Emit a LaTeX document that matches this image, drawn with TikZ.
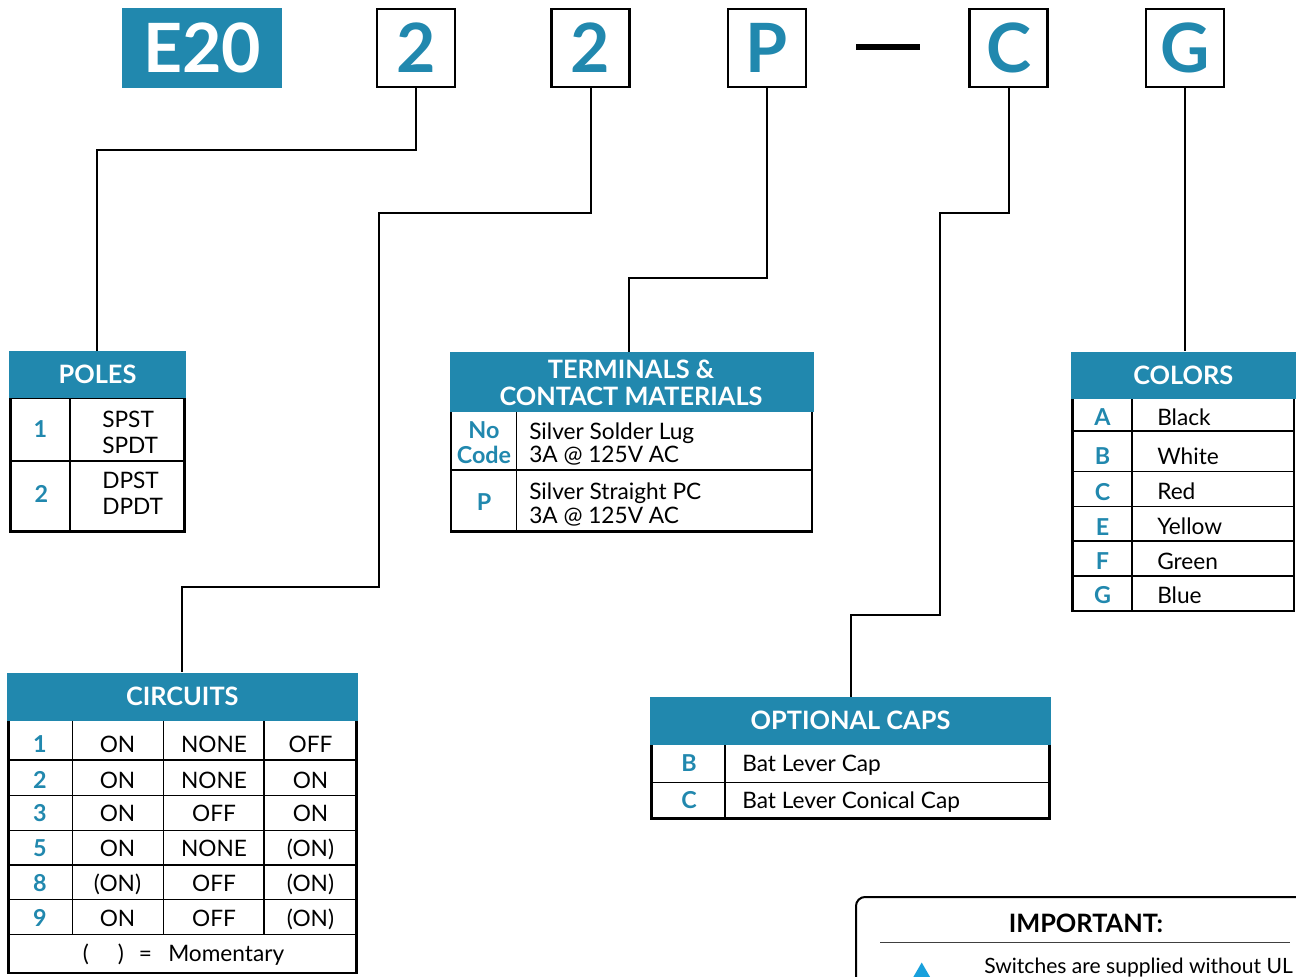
\documentclass[tikz,border=0pt]{standalone}
\usepackage{fontspec}
\setmainfont{Lato}
\newdimen\px \px=0.75pt
\definecolor{brand}{RGB}{33,136,174}
\definecolor{warn}{RGB}{24,160,220}
\newcommand\bodyf{\fontsize{17}{20}\selectfont}
\newcommand\keyf{\fontsize{17.5}{20}\selectfont\bfseries}
\newcommand\hdrf{\fontsize{19}{20.25}\selectfont\bfseries}
\newcommand\bigf{\fontsize{51}{51}\selectfont\bfseries}
\tikzset{
  hdr/.style={fill=brand, text=white, font=\hdrf, inner sep=0pt, align=center},
  bigbox/.style={draw=black, line width=2.5\px, minimum width=78\px, minimum height=78\px, inner sep=0pt, text=brand, font=\bigf},
  key/.style={text=brand, font=\keyf, inner sep=0pt, anchor=base},
  val/.style={font=\bodyf, inner sep=0pt, anchor=base west},
  valc/.style={font=\bodyf, inner sep=0pt, anchor=base},
  conn/.style={line width=2\px},
  outer/.style={line width=2.8\px},
  inner/.style={line width=1.4\px},
}
\begin{document}
\begin{tikzpicture}[x=0.75pt,y=-0.75pt]
\useasboundingbox (0,0) rectangle (1296,977);
\begin{scope}
\clip (0,0) rectangle (1296,977);

% ---------- top code boxes ----------
\node[fill=brand, minimum width=160\px, minimum height=80\px, inner sep=0pt, text=white, font=\bigf] (e20) at (202,48) {E20};
\node[bigbox] (b1) at (416,48) {2};
\node[bigbox] (b2) at (590.5,48) {2};
\node[bigbox] (b3) at (767,48) {P};
\coordinate (dA) at (856,47.5);
\coordinate (dB) at (920,47.5);
\draw[line width=6\px] (dA) -- (dB);
\node[bigbox] (b4) at (1008.5,48) {C};
\node[bigbox] (b5) at (1185,48) {G};

% ---------- POLES ----------
\draw[outer] (10.5,398) rectangle (184.5,531.5);
\draw[inner] (70,398) -- (70,531.5);
\draw[inner] (10.5,461) -- (184.5,461);
\node[hdr, minimum width=177\px, minimum height=47\px] (poles) at (97.5,374.5) {POLES};
\node[key] (p1k) at (40.5,437) {1};
\node[key] (p2k) at (41.5,502) {2};
\node[val] (p1a) at (102,427) {SPST};
\node[val] (p1b) at (102,453) {SPDT};
\node[val] (p2a) at (102,488) {DPST};
\node[val] (p2b) at (102,514) {DPDT};

% ---------- TERMINALS ----------
\draw[outer] (451,411) rectangle (812,531.5);
\draw[inner] (516.5,411) -- (516.5,531.5);
\draw[inner] (451,470) -- (812,470);
\node[hdr, minimum width=364\px, minimum height=60\px] (term) at (631.5,381.5) {};
\node[font=\hdrf, text=white, inner sep=0pt, anchor=base] (term1) at (631,378) {TERMINALS \&};
\node[font=\hdrf, text=white, inner sep=0pt, anchor=base] (term2) at (631,405) {CONTACT MATERIALS};
\node[key] (t1a) at (484,438) {No};
\node[key] (t1b) at (484,463) {Code};
\node[key] (t2k) at (484,510) {P};
\node[val] (t1v1) at (529,439) {Silver Solder Lug};
\node[val] (t1v2) at (529,462) {3A @ 125V AC};
\node[val] (t2v1) at (529,499) {Silver Straight PC};
\node[val] (t2v2) at (529,523) {3A @ 125V AC};

% ---------- COLORS ----------
\draw[outer] (1072.5,398) rectangle (1294,611);
\draw[inner] (1132,398) -- (1132,611);
\foreach \yy in {431,471.5,506.5,541,576} \draw[inner] (1072.5,\yy) -- (1294,\yy);
\node[hdr, minimum width=224.5\px, minimum height=47\px] (colors) at (1183.25,375) {COLORS};
\node[key] (cA) at (1102.5,425) {A};
\node[key] (cB) at (1102.5,464) {B};
\node[key] (cC) at (1102.5,500) {C};
\node[key] (cE) at (1102.5,535) {E};
\node[key] (cF) at (1102.5,569) {F};
\node[key] (cG) at (1102.5,603) {G};
\node[val] (vA) at (1157,425) {Black};
\node[val] (vB) at (1157,464) {White};
\node[val] (vC) at (1157,499) {Red};
\node[val] (vE) at (1157,534) {Yellow};
\node[val] (vF) at (1157,569) {Green};
\node[val] (vG) at (1157,603) {Blue};

% ---------- CIRCUITS ----------
\draw[outer] (8.5,720) rectangle (356.5,973);
\foreach \xx in {72.5,163.5,264} \draw[inner] (\xx,720) -- (\xx,934.5);
\foreach \yy in {760,795.5,830.5,865,899.5,934.5} \draw[inner] (8.5,\yy) -- (356.5,\yy);
\node[hdr, minimum width=351.5\px, minimum height=48\px] (circ) at (182.25,696.5) {CIRCUITS};
\node[key] (k1) at (40,752.7) {1};
\node[key] (k2) at (40,788.3) {2};
\node[key] (k3) at (40,821.7) {3};
\node[key] (k5) at (40,856.7) {5};
\node[key] (k8) at (40,891.7) {8};
\node[key] (k9) at (40,926) {9};
\node[valc] (r1a) at (117.5,752.7) {ON};
\node[valc] (r1b) at (214,752.7) {NONE};
\node[valc] (r1c) at (310.5,752.7) {OFF};
\node[valc] (r2a) at (117.5,788.3) {ON};
\node[valc] (r2b) at (214,788.3) {NONE};
\node[valc] (r2c) at (310.5,788.3) {ON};
\node[valc] (r3a) at (117.5,821.7) {ON};
\node[valc] (r3b) at (214,821.7) {OFF};
\node[valc] (r3c) at (310.5,821.7) {ON};
\node[valc] (r5a) at (117.5,856.7) {ON};
\node[valc] (r5b) at (214,856.7) {NONE};
\node[valc] (r5c) at (310.5,856.7) {(ON)};
\node[valc] (r8a) at (117.5,891.7) {(ON)};
\node[valc] (r8b) at (214,891.7) {OFF};
\node[valc] (r8c) at (310.5,891.7) {(ON)};
\node[valc] (r9a) at (117.5,926) {ON};
\node[valc] (r9b) at (214,926) {OFF};
\node[valc] (r9c) at (310.5,926) {(ON)};
\node[valc] (mo1) at (86,961.7) {(};
\node[valc] (mo2) at (121,961.7) {)};
\node[valc] (mo3) at (145.5,961.7) {=};
\node[val] (mo4) at (168,961.7) {Momentary};

% ---------- OPTIONAL CAPS ----------
\draw[outer] (651.5,744) rectangle (1049.5,818.5);
\draw[inner] (725,744) -- (725,818.5);
\draw[inner] (651.5,782.5) -- (1049.5,782.5);
\node[hdr, minimum width=401\px, minimum height=47.5\px] (caps) at (850.5,720.75) {OPTIONAL CAPS};
\node[key] (oB) at (689,771.7) {B};
\node[key] (oC) at (689,808.3) {C};
\node[val] (ovB) at (742,771.7) {Bat Lever Cap};
\node[val] (ovC) at (742,808.3) {Bat Lever Conical Cap};

% ---------- connectors ----------
\draw[conn] (b1.south) |- (97,150) -- (poles.north -| 97,0);
\draw[conn] (b2.south) |- (379,213) -- (379,587) -| (circ.north);
\draw[conn] (b3.south) |- (629,278) -- (629,351.5);
\draw[conn] (b4.south) |- (940,213) -- (940,615) -| (caps.north);
\draw[conn] (b5.south) -- (b5.south |- colors.north);

% ---------- IMPORTANT ----------
\draw[line width=2\px, rounded corners=9\px] (856,1010) -- (856,897) -- (1320,897);
\node[font=\hdrf, inner sep=0pt, anchor=base] (imp) at (1086,932) {IMPORTANT:};
\coordinate (rl) at (880,942.5);
\coordinate (rr) at (1290,942.5);
\draw[line width=1.3\px, black!75] (rl) -- (rr);
\fill[warn] (921.7,962.5) -- (937,989) -- (906.4,989) -- cycle;
\node[font=\fontsize{15.8}{18}\selectfont, inner sep=0pt, anchor=base west] (sw) at (984,973.3) {Switches are supplied without UL};
\end{scope}
\end{tikzpicture}
\end{document}
